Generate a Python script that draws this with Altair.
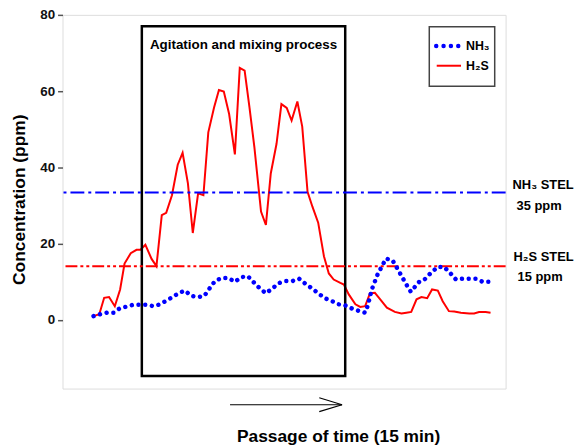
import altair as alt
import pandas as pd

# ---------------- data ----------------
# time axis: arbitrary units, 0 = left edge of the frame, 100 = right edge
h2s_t = [7.0, 8.3, 9.4, 10.5, 11.8, 13.0, 14.0, 15.4, 16.7, 17.6, 18.7, 20.1, 21.2,
         22.4, 23.4, 24.7, 26.0, 27.1, 28.3, 29.4, 30.6, 31.8, 32.9, 34.2, 35.3,
         36.4, 37.6, 38.9, 40.0, 41.1, 42.2, 43.3, 44.8, 45.9, 47.0, 48.3, 49.4,
         50.6, 51.7, 53.0, 54.1, 55.3, 56.4, 57.7, 59.0, 60.1, 61.2, 62.7, 63.5,
         64.6, 66.1, 67.2, 68.3, 69.4, 70.5, 71.7, 73.2, 75.0, 76.5, 77.6, 78.7,
         79.9, 81.0, 82.3, 83.4, 84.7, 85.8, 87.2, 88.4, 89.9, 91.8, 92.9, 94.0,
         95.5, 96.6]
h2s_v = [1.0, 1.5, 5.8, 6.0, 3.6, 8.0, 14.8, 17.5, 18.4, 18.4, 19.7, 16.0, 14.1,
         27.5, 28.1, 32.7, 40.7, 43.8, 35.8, 22.8, 33.2, 32.7, 49.2, 55.7, 60.3,
         59.9, 54.0, 43.4, 66.1, 65.4, 55.7, 45.3, 28.4, 24.9, 38.4, 46.2, 56.6,
         55.6, 52.3, 57.3, 50.7, 33.6, 29.7, 25.5, 16.7, 12.2, 10.6, 9.7, 9.3,
         6.7, 4.1, 3.4, 3.6, 7.0, 7.1, 5.4, 3.2, 2.1, 1.7, 1.9, 2.1,
         5.4, 6.0, 5.7, 8.0, 7.7, 4.9, 2.3, 2.2, 1.9, 1.7, 1.7, 2.1,
         2.1, 1.9]

nh3_t = [7.0, 8.5, 10.0, 11.5, 13.0, 14.5, 16.0, 17.5, 19.0, 20.5, 21.7, 23.2,
         24.7, 26.2, 27.6, 29.1, 30.6, 32.0, 33.2, 34.4, 35.9, 37.4, 38.9, 40.3,
         41.8, 43.2, 44.5, 45.9, 47.4, 48.9, 50.4, 51.9, 53.4, 54.9, 56.4, 57.9,
         59.4, 60.9, 62.3, 63.8, 65.3, 66.8, 68.3, 68.9, 69.8, 71.1, 73.0, 74.5,
         75.6, 77.5, 78.6, 80.5, 81.7, 83.1, 84.7, 86.1, 87.5, 88.8, 90.3, 91.8,
         93.3, 94.8, 96.3]
nh3_v = [1.0, 1.5, 1.9, 1.9, 3.1, 3.5, 4.0, 4.0, 4.0, 3.6, 4.0, 4.9,
         5.9, 7.0, 7.7, 6.3, 6.0, 6.3, 8.3, 10.2, 11.0, 11.0, 10.0, 11.2,
         11.5, 9.8, 8.3, 7.0, 8.3, 9.7, 10.2, 10.2, 10.8, 9.4, 8.2, 6.8,
         5.6, 4.9, 4.1, 3.8, 3.0, 2.4, 1.9, 3.8, 8.0, 11.9, 16.1, 15.6,
         13.4, 9.5, 7.4, 10.0, 10.6, 12.3, 13.9, 13.9, 12.3, 10.6, 10.8, 10.8,
         10.8, 10.0, 10.0]

stel_nh3 = 33.4
stel_h2s = 14.1
box_t = [17.9, 63.8]
box_y = [-14.7, 77.0]
box_label = "Agitation and mixing process"
y_ticks = [0, 20, 40, 60, 80]
legend_names = ["NH\u2083", "H\u2082S"]
stel_texts = ["NH\u2083 STEL", "35 ppm", "H\u2082S STEL", "15 ppm"]

FONT = "Liberation Sans"
W, H = 447, 377

df_h2s = pd.DataFrame({"t": h2s_t, "v": h2s_v})
df_nh3 = pd.DataFrame({"t": nh3_t, "v": nh3_v})
df_box = pd.DataFrame({"t": [box_t[0]], "t1": [box_t[1]], "v": [box_y[0]], "v1": [box_y[1]]})

xs = alt.Scale(domain=[0, 100], nice=False, zero=False)
ys = alt.Scale(domain=[-18, 80], nice=False, zero=False)

x_axis = alt.Axis(
    title="Passage of time (15 min)", labels=False, ticks=False, domain=False, grid=False,
    titleFont=FONT, titleFontSize=17.5, titleFontWeight="bold", titleColor="black",
    titleX=278, titleY=48, titleBaseline="middle", titleAlign="center")
y_axis = alt.Axis(
    title="Concentration (ppm)", values=y_ticks, grid=False, domain=False,
    tickColor="#555", tickSize=5, tickWidth=1.5, labelPadding=3,
    labelFont=FONT, labelFontSize=13.5, labelFontWeight="bold", labelColor="#111",
    titleFont=FONT, titleFontSize=17.5, titleFontWeight="bold", titleColor="black",
    titleAngle=-90, titleX=-43, titleY=186, titleAlign="center", titleBaseline="middle")

X = lambda f="t": alt.X(f"{f}:Q", scale=xs, axis=x_axis)
Y = lambda f="v": alt.Y(f"{f}:Q", scale=ys, axis=y_axis)

one = pd.DataFrame({"a": [0]})

h2s_line = alt.Chart(df_h2s).mark_line(color="#ff0000", strokeWidth=2).encode(x=X(), y=Y())
nh3_line = alt.Chart(df_nh3).mark_line(
    color="#0000ff", strokeWidth=4.5, strokeDash=[0.01, 6.8], strokeCap="round"
).encode(x=X(), y=Y())

rule_nh3 = alt.Chart(pd.DataFrame({"v": [stel_nh3]})).mark_rule(
    color="#0000ff", strokeWidth=2, strokeDash=[14, 4, 3, 4]).encode(y=Y())
rule_h2s = alt.Chart(pd.DataFrame({"v": [stel_h2s]})).mark_rule(
    color="#ff0000", strokeWidth=2, strokeDash=[12, 3, 3, 3, 3, 3]).encode(y=Y())

box = alt.Chart(df_box).mark_rect(fillOpacity=0, stroke="black", strokeWidth=2.5).encode(
    x=X(), x2="t1:Q", y=Y(), y2="v1:Q")
box_text = alt.Chart(pd.DataFrame({"t": [(box_t[0] + box_t[1]) / 2], "v": [72.0], "s": [box_label]})).mark_text(
    font=FONT, fontSize=13.5, fontWeight="bold", color="black", baseline="middle").encode(
    x=X(), y=Y(), text="s:N")

# legend (drawn by hand)
leg_box = alt.Chart(one).mark_rect(
    fillOpacity=0, stroke="#444", strokeWidth=1.5).encode(
    x=alt.value(370), x2=alt.value(436), y=alt.value(12), y2=alt.value(72))
leg_nh3 = alt.Chart(one).mark_rule(
    color="#0000ff", strokeWidth=4.5, strokeDash=[0.01, 7.4], strokeCap="round").encode(
    x=alt.value(377), x2=alt.value(401), y=alt.value(31.3))
leg_h2s = alt.Chart(one).mark_rule(
    color="#ff0000", strokeWidth=2).encode(
    x=alt.value(377.5), x2=alt.value(402), y=alt.value(51.3))


def txt(s, px, py, size=13, align="left"):
    return alt.Chart(one).mark_text(
        font=FONT, fontSize=size, fontWeight="bold", align=align, baseline="middle",
        color="black", text=s).encode(x=alt.value(px), y=alt.value(py))


leg_t1 = txt(legend_names[0], 407, 31.3, 12.5)
leg_t2 = txt(legend_names[1], 407, 51.3, 12.5)

# right-side STEL labels
lab1 = txt(stel_texts[0], 454, 172)
lab2 = txt(stel_texts[1], 458, 193)
lab3 = txt(stel_texts[2], 455, 244)
lab4 = txt(stel_texts[3], 459, 264)


def seg(x1, y1, x2, y2):
    return alt.Chart(one).mark_rule(color="black", strokeWidth=1.2).encode(
        x=alt.value(x1), x2=alt.value(x2), y=alt.value(y1), y2=alt.value(y2))


arrow = [seg(169, 393.3, 282, 393.3), seg(282, 393.3, 259, 386.3), seg(282, 393.3, 259, 400.3)]

chart = alt.layer(
    h2s_line, box, rule_nh3, rule_h2s, nh3_line, box_text,
    leg_box, leg_nh3, leg_h2s, leg_t1, leg_t2, lab1, lab2, lab3, lab4, *arrow
).properties(
    width=W, height=H,
    autosize=alt.AutoSizeParams(type="none"),
    padding={"left": 55, "top": 5, "right": 70, "bottom": 57},
).configure_view(stroke="#555", strokeWidth=1.5).configure(font=FONT)

chart.save("out.html", embed_options={"renderer": "svg", "actions": False})
